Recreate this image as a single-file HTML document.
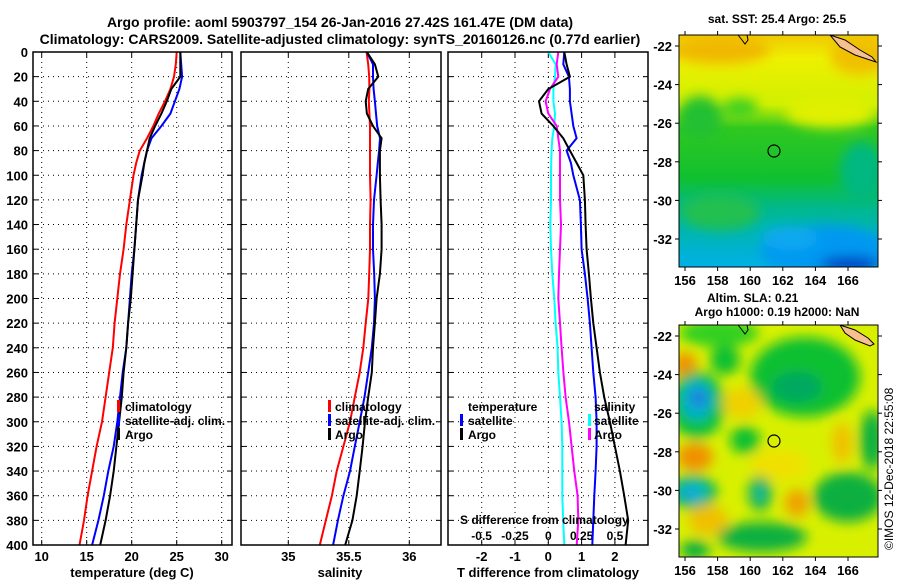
<!DOCTYPE html>
<html><head><meta charset="utf-8">
<style>
html,body{margin:0;padding:0;background:#fff;}
svg{display:block;font-family:"Liberation Sans",Arial,sans-serif;font-weight:bold;}
</style></head>
<body>
<svg id="chart" width="900" height="580" viewBox="0 0 900 580" xmlns="http://www.w3.org/2000/svg">
<defs>
<filter id="blur6" x="-50%" y="-50%" width="200%" height="200%"><feGaussianBlur stdDeviation="6"/></filter>
<clipPath id="clipTop"><rect x="679" y="35" width="199" height="232"/></clipPath>
<clipPath id="clipBot"><rect x="679" y="325" width="199" height="232"/></clipPath>
<linearGradient id="sstGrad" x1="0" y1="0" x2="0" y2="1">
<stop offset="0" stop-color="#f0c800"/><stop offset="0.1" stop-color="#eef000"/><stop offset="0.3" stop-color="#d0f000"/>
<stop offset="0.4" stop-color="#30c820"/><stop offset="0.62" stop-color="#10c030"/><stop offset="0.75" stop-color="#00b890"/><stop offset="1" stop-color="#00b0e8"/>
</linearGradient>
</defs>
<text x="340" y="27" font-size="14" text-anchor="middle">Argo profile: aoml 5903797_154 26-Jan-2016 27.42S 161.47E (DM data)</text>
<text x="340" y="44" font-size="14" text-anchor="middle">Climatology: CARS2009. Satellite-adjusted climatology: synTS_20160126.nc (0.77d earlier)</text>
<g id="grids"></g>
<g id="lines"></g>
<g id="legends">
<g font-size="12">
<rect x="117" y="400" width="3" height="12" fill="#f00"/><text x="125" y="411">climatology</text>
<rect x="117" y="414" width="3" height="12" fill="#00f"/><text x="125" y="425">satellite-adj. clim.</text>
<rect x="117" y="428" width="3" height="12" fill="#000"/><text x="125" y="439">Argo</text>
</g>
<g font-size="12">
<rect x="328" y="400" width="3" height="12" fill="#f00"/><text x="335" y="411">climatology</text>
<rect x="328" y="414" width="3" height="12" fill="#00f"/><text x="335" y="425">satellite-adj. clim.</text>
<rect x="328" y="428" width="3" height="12" fill="#000"/><text x="335" y="439">Argo</text>
</g>
<g font-size="12">
<text x="468" y="411">temperature</text>
<rect x="460" y="414" width="3" height="12" fill="#00f"/><text x="468" y="425">satellite</text>
<rect x="460" y="428" width="3" height="12" fill="#000"/><text x="468" y="439">Argo</text>
<text x="594" y="411">salinity</text>
<rect x="588" y="414" width="3" height="12" fill="#0ff"/><text x="594" y="425">satellite</text>
<rect x="588" y="428" width="3" height="12" fill="#f0f"/><text x="594" y="439">Argo</text>
</g>
</g>
<text x="460" y="524" font-size="12">S difference from climatology</text>
<g>
<g clip-path="url(#clipTop)">
<rect x="679" y="35" width="199" height="232" fill="url(#sstGrad)"/>
<g filter="url(#blur6)">
<ellipse cx="720" cy="50" rx="50" ry="14" fill="#f0b800"/>
<ellipse cx="860" cy="55" rx="30" ry="20" fill="#f0c000"/>
<ellipse cx="830" cy="112" rx="45" ry="16" fill="#e0f000"/>
<ellipse cx="700" cy="118" rx="22" ry="22" fill="#20c030"/>
<ellipse cx="740" cy="108" rx="18" ry="10" fill="#40d020"/>
<ellipse cx="862" cy="172" rx="22" ry="30" fill="#00b880"/>
<ellipse cx="720" cy="212" rx="40" ry="18" fill="#20c050"/>
<ellipse cx="825" cy="250" rx="65" ry="25" fill="#0098f0"/>
<ellipse cx="790" cy="238" rx="28" ry="12" fill="#10a8f0"/>
<ellipse cx="850" cy="264" rx="30" ry="7" fill="#0030c0"/>
</g>
<polygon points="830,35 845,40 860,50 872,57 876,62 870,60 855,55 840,47" fill="#f8c090" stroke="#000" stroke-width="1"/>
<polyline points="738,35 742,40 745,44 748,40 747,35" fill="none" stroke="#000" stroke-width="1"/>
</g>
<rect x="679" y="35" width="199" height="232" fill="none" stroke="#000"/>
<circle cx="774" cy="151" r="6" fill="none" stroke="#000" stroke-width="1.2"/>
</g>
<g>
<g clip-path="url(#clipBot)">
<rect x="679" y="325" width="199" height="232" fill="#d8f000"/>
<g transform="translate(679,325)" filter="url(#blur6)">
<ellipse cx="126" cy="52" rx="55" ry="40" fill="#10c030"/>
<ellipse cx="118" cy="62" rx="25" ry="15" fill="#00a860"/>
<ellipse cx="40" cy="8" rx="40" ry="14" fill="#30d020"/>
<ellipse cx="46" cy="35" rx="15" ry="15" fill="#10c030"/>
<ellipse cx="6" cy="42" rx="12" ry="15" fill="#f09000"/>
<ellipse cx="18" cy="80" rx="28" ry="34" fill="#10c040"/>
<ellipse cx="18" cy="75" rx="16" ry="20" fill="#00b0d0"/>
<ellipse cx="20" cy="73" rx="8" ry="8" fill="#2070e0"/>
<ellipse cx="66" cy="115" rx="15" ry="14" fill="#10c030"/>
<ellipse cx="16" cy="132" rx="18" ry="14" fill="#f09000"/>
<ellipse cx="63" cy="78" rx="20" ry="15" fill="#f0d000"/>
<ellipse cx="14" cy="167" rx="24" ry="17" fill="#10b050"/>
<ellipse cx="14" cy="167" rx="16" ry="11" fill="#00c0c0"/>
<ellipse cx="12" cy="168" rx="7" ry="5" fill="#2090e8"/>
<ellipse cx="81" cy="168" rx="12" ry="18" fill="#10b050"/>
<ellipse cx="81" cy="168" rx="5" ry="8" fill="#20c0b0"/>
<ellipse cx="118" cy="178" rx="12" ry="14" fill="#f0a000"/>
<ellipse cx="169" cy="172" rx="35" ry="25" fill="#10b040"/>
<ellipse cx="193" cy="115" rx="12" ry="30" fill="#10b040"/>
<ellipse cx="163" cy="118" rx="10" ry="20" fill="#f0c000"/>
<ellipse cx="83" cy="212" rx="45" ry="15" fill="#10b040"/>
<ellipse cx="16" cy="225" rx="15" ry="10" fill="#10b040"/>
<ellipse cx="29" cy="195" rx="20" ry="15" fill="#f0c000"/>
<ellipse cx="100" cy="140" rx="30" ry="15" fill="#f0e000"/>
</g>
<polygon points="840,325 855,330 868,338 874,344 870,346 855,340 845,333" fill="#f8c090" stroke="#000" stroke-width="1"/>
<polyline points="738,325 742,330 745,334 748,330 747,325" fill="none" stroke="#000" stroke-width="1"/>
</g>
<rect x="679" y="325" width="199" height="232" fill="none" stroke="#000"/>
<circle cx="774" cy="441" r="6" fill="none" stroke="#000" stroke-width="1.2"/>
</g>
<g id="mapaxes" font-size="13"></g>
<text x="777" y="23" font-size="12" text-anchor="middle">sat. SST: 25.4 Argo: 25.5</text>
<text x="707" y="302" font-size="12">Altim. SLA: 0.21</text>
<text x="777" y="316" font-size="12" text-anchor="middle">Argo h1000: 0.19 h2000: NaN</text>
<text x="0" y="0" font-size="12" font-weight="normal" transform="translate(893,550) rotate(-90)">©IMOS 12-Dec-2018 22:55:08</text>
</svg>
<script>
const depth = [0,10,20,30,40,50,60,70,80,90,100,120,140,160,180,200,220,240,260,280,300,320,340,360,380,400];
const tClim = [25.0,24.9,24.7,24.3,23.7,23.0,22.4,21.7,20.9,20.5,20.2,19.8,19.4,19.1,18.7,18.4,18.1,17.9,17.5,17.1,16.7,16.1,15.6,15.1,14.7,14.2];
const tSat = [25.4,25.5,25.6,25.3,24.8,24.3,23.3,22.2,21.7,21.4,21.1,20.7,20.5,20.3,20.0,19.8,19.6,19.4,19.0,18.7,18.4,18.0,17.4,16.9,16.3,15.6];
const tArgo = [25.4,25.4,25.4,24.4,23.9,23.3,22.6,22.0,21.7,21.4,21.2,20.7,20.5,20.3,20.1,19.9,19.6,19.4,19.1,18.9,18.6,18.3,18.0,17.6,17.1,16.5];
const sClim = [35.647,35.66,35.669,35.67,35.665,35.67,35.675,35.675,35.675,35.675,35.675,35.68,35.675,35.675,35.669,35.661,35.64,35.62,35.59,35.55,35.51,35.455,35.40,35.36,35.31,35.26];
const sSat = [35.65,35.70,35.70,35.705,35.716,35.725,35.735,35.758,35.75,35.74,35.73,35.708,35.70,35.70,35.71,35.716,35.708,35.69,35.66,35.63,35.59,35.55,35.51,35.455,35.41,35.37];
const sArgo = [35.65,35.716,35.744,35.66,35.64,35.65,35.70,35.771,35.757,35.757,35.757,35.763,35.771,35.771,35.757,35.73,35.716,35.70,35.69,35.66,35.634,35.614,35.59,35.565,35.53,35.47];
const dTSat = [0.48,0.45,0.62,0.65,0.65,0.70,0.75,0.85,0.55,0.68,0.75,0.95,0.98,1.0,1.1,1.18,1.25,1.3,1.35,1.42,1.45,1.45,1.42,1.38,1.35,1.32];
const dTArgo = [0.48,0.55,0.65,0.0,-0.28,-0.2,0.15,0.45,0.65,0.85,1.05,1.1,1.12,1.15,1.22,1.28,1.35,1.45,1.55,1.68,1.85,2.0,2.15,2.28,2.4,2.32];
const dSSat = [0,0.055,0.05,0.038,0.038,0.05,0.045,0.03,0.025,0.022,0.02,0.02,0.015,0.02,0.03,0.045,0.055,0.07,0.075,0.088,0.1,0.105,0.105,0.105,0.112,0.12];
const dSArgo = [0.075,0.063,0.075,0.013,-0.02,0,0.063,0.075,0.088,0.088,0.088,0.088,0.095,0.088,0.08,0.075,0.088,0.1,0.113,0.13,0.155,0.175,0.195,0.22,0.225,0.213];
const depthTicks = [0,20,40,60,80,100,120,140,160,180,200,220,240,260,280,300,320,340,360,380,400];
const tTicks = [10,15,20,25,30];
const sTicks = [35,35.5,36];
const sTickLabels = ["35","35.5","36"];
const dTTicks = [-2,-1,0,1,2];
const dSTicks = [-0.5,-0.25,0,0.25,0.5];
const dSTickLabels = ["-0.5","-0.25","0","0.25","0.5"];
const lonTicks = [156,158,160,162,164,166];
const latTicksTop = [-22,-24,-26,-28,-30,-32];
const latTicksBot = [-22,-24,-26,-28,-30,-32];

const NS = "http://www.w3.org/2000/svg";
const TOP = 52, BOT = 545;
const yD = d => TOP + d * (BOT - TOP) / 400;
const xT = t => 41.7 + (t - 10) * 9.0;
const xS = s => 288.3 + (s - 35) * 121;
const xDT = v => 548.3 + v * 33.3;
const xDS = v => 548.3 + v * 133.3;
const panels = [{l:33,r:232},{l:241,r:441},{l:448,r:648}];

function mk(tag, attrs, parent) {
  const e = document.createElementNS(NS, tag);
  for (const k in attrs) e.setAttribute(k, attrs[k]);
  parent.appendChild(e);
  return e;
}
const grids = document.getElementById('grids');
const lines = document.getElementById('lines');

panels.forEach((p, pi) => {
  const g = mk('g', {}, grids);
  
  
  depthTicks.forEach(d => {
    const ln = mk('line', {x1:p.l, x2:p.r, y1:yD(d), y2:yD(d), stroke:'#000', 'stroke-width':1, 'stroke-dasharray':'1,4'}, g);
    
    
    mk('line', {x1:p.l, x2:p.l+5, y1:yD(d), y2:yD(d), stroke:'#000'}, g);
    mk('line', {x1:p.r-5, x2:p.r, y1:yD(d), y2:yD(d), stroke:'#000'}, g);
  });
});
function vgrid(ticks, fx, labels, pi) {
  ticks.forEach((t, i) => {
    const x = fx(t);
    const ln = mk('line', {x1:x, x2:x, y1:TOP, y2:BOT, stroke:'#000', 'stroke-width':1, 'stroke-dasharray':'1,4'}, grids);
    
    
    mk('line', {x1:x, x2:x, y1:TOP, y2:TOP+5, stroke:'#000'}, grids);
    mk('line', {x1:x, x2:x, y1:BOT-5, y2:BOT, stroke:'#000'}, grids);
    const tx = mk('text', {x:x, y:561, 'font-size':13, 'text-anchor':'middle'}, grids);
    
    
    tx.textContent = labels ? labels[i] : String(t);
  });
}
vgrid(tTicks, xT, null, 0);
vgrid(sTicks, xS, sTickLabels, 1);
vgrid(dTTicks, xDT, null, 2);
dSTicks.forEach((t, i) => {
  const tx = mk('text', {x:xDS(t), y:540, 'font-size':12, 'text-anchor':'middle'}, grids);
  
  
  tx.textContent = dSTickLabels[i];
});
depthTicks.forEach(d => {
  const tx = mk('text', {x:28, y:yD(d)+5, 'font-size':13, 'text-anchor':'end'}, grids);
  
  
  tx.textContent = String(d);
});
[['temperature (deg C)',132,'x-axis-title-temperature'],['salinity',340,'x-axis-title-salinity'],['T difference from climatology',548,'x-axis-title-difference']].forEach(a => {
  const tx = mk('text', {x:a[1], y:577, 'font-size':13, 'text-anchor':'middle'}, grids);
  
  
  tx.textContent = a[0];
});
function series(vals, fx, color, name) {
  const pts = vals.map((v, i) => fx(v).toFixed(1) + ',' + yD(depth[i]).toFixed(1)).join(' ');
  const pl = mk('polyline', {points:pts, fill:'none', stroke:color, 'stroke-width':2}, lines);
  
  
}
series(tClim, xT, '#f00', 'temperature-climatology-line');
series(tSat, xT, '#00f', 'temperature-satellite-line');
series(tArgo, xT, '#000', 'temperature-argo-line');
series(sClim, xS, '#f00', 'salinity-climatology-line');
series(sSat, xS, '#00f', 'salinity-satellite-line');
series(sArgo, xS, '#000', 'salinity-argo-line');
series(dSSat, xDS, '#0ff', 'salinity-diff-satellite-line');
series(dSArgo, xDS, '#f0f', 'salinity-diff-argo-line');
series(dTSat, xDT, '#00f', 'temperature-diff-satellite-line');
series(dTArgo, xDT, '#000', 'temperature-diff-argo-line');
panels.forEach((p, pi) => {
  const r = mk('rect', {x:p.l, y:TOP, width:p.r-p.l, height:BOT-TOP, fill:'none', stroke:'#000', 'stroke-width':1.5}, lines);
  
  
});
const mapaxes = document.getElementById('mapaxes');
const xLon = lon => 685 + (lon - 156) * 16.3;
function mapAxis(top, bottom, lat0y, lats) {
  lonTicks.forEach(lon => {
    const x = xLon(lon);
    mk('line', {x1:x, x2:x, y1:top, y2:top-4, stroke:'#000'}, mapaxes);
    mk('line', {x1:x, x2:x, y1:bottom, y2:bottom+4, stroke:'#000'}, mapaxes);
    const tx = mk('text', {x:x, y:bottom+18, 'text-anchor':'middle'}, mapaxes);
    
    
    tx.textContent = String(lon);
  });
  lats.forEach(lat => {
    const y = lat0y + (-22 - lat) * 19.3;
    mk('line', {x1:679, x2:675, y1:y, y2:y, stroke:'#000'}, mapaxes);
    mk('line', {x1:878, x2:882, y1:y, y2:y, stroke:'#000'}, mapaxes);
    const tx = mk('text', {x:672, y:y+5, 'text-anchor':'end'}, mapaxes);
    
    
    tx.textContent = String(lat);
  });
}
mapAxis(35, 267, 46, latTicksTop);
mapAxis(325, 557, 336, latTicksBot);
</script>
</body></html>
